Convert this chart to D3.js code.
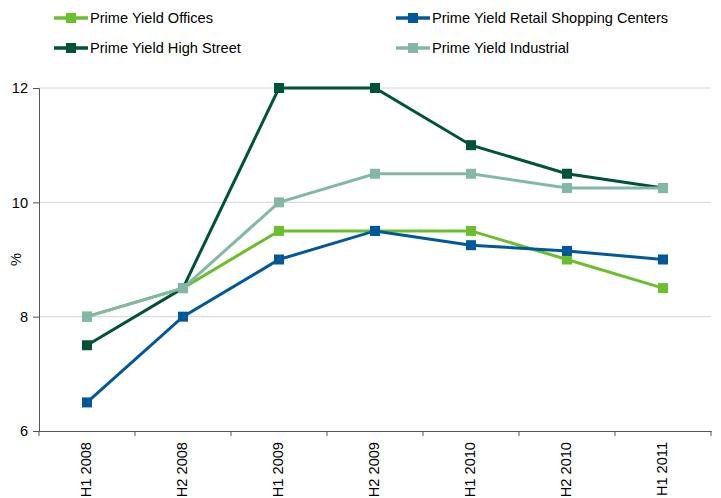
<!DOCTYPE html>
<html>
<head>
<meta charset="utf-8">
<script src="https://cdn.jsdelivr.net/npm/d3@7"></script>
<style>
  body { margin: 0; background: #fff; }
  text { font-family: Arial, "Liberation Sans", sans-serif; fill: #000; }
</style>
</head>
<body>
<svg id="chart"></svg>
<script>
const categories = ['H1 2008', 'H2 2008', 'H1 2009', 'H2 2009', 'H1 2010', 'H2 2010', 'H1 2011'];
const offices = [8, 8.5, 9.5, 9.5, 9.5, 9.0, 8.5];
const retail = [6.5, 8, 9, 9.5, 9.25, 9.15, 9.0];
const highStreet = [7.5, 8.5, 12, 12, 11, 10.5, 10.25];
const industrial = [8, 8.5, 10, 10.5, 10.5, 10.25, 10.25];
const yTicks = [6, 8, 10, 12];

const series = [
  { name: 'Prime Yield Offices', values: offices, color: '#6abf2b' },
  { name: 'Prime Yield Retail Shopping Centers', values: retail, color: '#00589a' },
  { name: 'Prime Yield High Street', values: highStreet, color: '#005335' },
  { name: 'Prime Yield Industrial', values: industrial, color: '#84b8a6' }
];

const width = 721, height = 498;
const margin = { top: 88, right: 10, bottom: 67, left: 39 };
const fontSize = 14.6;

const svg = d3.select('#chart')
  .attr('width', width)
  .attr('height', height);

const x = d3.scaleBand()
  .domain(categories)
  .range([margin.left, width - margin.right]);

const y = d3.scaleLinear()
  .domain([6, 12])
  .range([height - margin.bottom, margin.top]);

// gridlines
svg.append('g')
  .selectAll('line')
  .data(yTicks.filter(d => d > 6))
  .join('line')
  .attr('x1', margin.left)
  .attr('x2', width - margin.right)
  .attr('y1', d => y(d))
  .attr('y2', d => y(d))
  .attr('stroke', '#d4d4d4')
  .attr('stroke-width', 1);

// y axis
const yAxis = svg.append('g')
  .attr('transform', 'translate(' + margin.left + ',0)')
  .call(d3.axisLeft(y).tickValues(yTicks).tickSize(6).tickFormat(d3.format('d')));
yAxis.select('.domain').attr('stroke', '#555');
yAxis.selectAll('.tick line').attr('stroke', '#555');
yAxis.selectAll('.tick text').attr('font-size', fontSize).attr('x', -11);

// x axis
const xAxis = svg.append('g')
  .attr('transform', 'translate(0,' + (height - margin.bottom) + ')')
  .call(d3.axisBottom(x).tickSize(0).tickSizeOuter(0));
xAxis.select('.domain').attr('stroke', '#555');
xAxis.selectAll('.tick text')
  .attr('font-size', fontSize)
  .attr('transform', 'rotate(-90)')
  .attr('x', -11)
  .attr('y', -1)
  .attr('dy', '0.35em')
  .style('text-anchor', 'end');

// x boundary ticks
svg.append('g')
  .selectAll('line')
  .data(categories.concat(['end']))
  .join('line')
  .attr('x1', (d, i) => margin.left + i * x.step())
  .attr('x2', (d, i) => margin.left + i * x.step())
  .attr('y1', height - margin.bottom)
  .attr('y2', height - margin.bottom + 5)
  .attr('stroke', '#555');

// y label
svg.append('text')
  .attr('transform', 'translate(21,' + (y(9)) + ') rotate(-90)')
  .attr('text-anchor', 'middle')
  .attr('font-size', fontSize)
  .text('%');

const line = d3.line()
  .x((d, i) => x(categories[i]) + x.bandwidth() / 2)
  .y(d => y(d));

const ms = 10;
series.forEach(s => {
  svg.append('path')
    .datum(s.values)
    .attr('fill', 'none')
    .attr('stroke', s.color)
    .attr('stroke-width', 3)
    .attr('d', line);
  svg.append('g')
    .selectAll('rect')
    .data(s.values)
    .join('rect')
    .attr('x', (d, i) => x(categories[i]) + x.bandwidth() / 2 - ms / 2)
    .attr('y', d => y(d) - ms / 2)
    .attr('width', ms)
    .attr('height', ms)
    .attr('fill', s.color);
});

// legend
const legendPos = [[54, 18], [396, 18], [54, 48], [396, 48]];
series.forEach((s, i) => {
  const g = svg.append('g').attr('transform', 'translate(' + legendPos[i][0] + ',' + legendPos[i][1] + ')');
  g.append('line').attr('x1', 0).attr('x2', 34).attr('y1', 0).attr('y2', 0)
    .attr('stroke', s.color).attr('stroke-width', 3.5);
  g.append('rect').attr('x', 12).attr('y', -5).attr('width', 10).attr('height', 10).attr('fill', s.color);
  g.append('text').attr('x', 36).attr('y', 0).attr('dy', '0.35em')
    .attr('font-size', fontSize).text(s.name);
});
</script>
</body>
</html>
